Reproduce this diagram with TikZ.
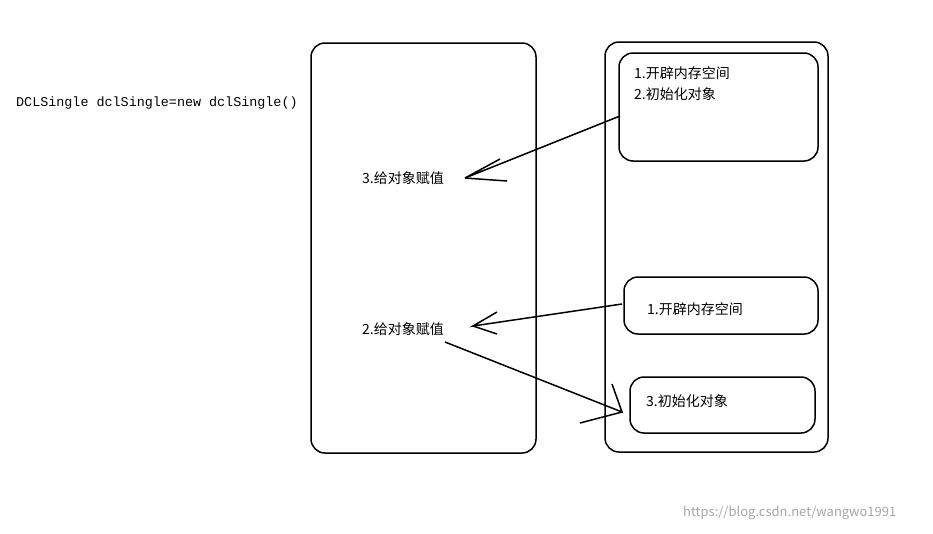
\documentclass[tikz,border=0pt]{standalone}
\usepackage{fontspec}
\setmainfont{Noto Sans CJK SC}
\newfontfamily\codefont{Liberation Mono}
\begin{document}
\begin{tikzpicture}[x=1pt,y=-1pt,
	box/.style={draw,line width=1.5pt,rounded corners=14pt},
	lbl/.style={anchor=west,inner sep=0pt,font=\fontsize{14}{17}\selectfont},
	stroke/.style={line width=1.5pt}]
	\useasboundingbox (0,0) rectangle (933,533);
	% the two columns
	\draw[box] (311,43) rectangle (536,453);
	\draw[box] (605,42) rectangle (828,452);
	% right-hand boxes
	\draw[box] (619,53) rectangle (818,161);
	\draw[box] (624,277) rectangle (818,334);
	\draw[box] (630,377) rectangle (815,433);
	
	\node[lbl,font=\codefont\fontsize{13.4}{16}\selectfont] (code) at (16,103) {DCLSingle dclSingle=new dclSingle()};
	\node[lbl] (alloca) at (634,73) {1.开辟内存空间};
	\node[lbl] (inita) at (634,94) {2.初始化对象};
	\node[lbl] (assigna) at (362,178) {3.给对象赋值};
	\node[lbl] (allocb) at (647,309) {1.开辟内存空间};
	\node[lbl] (assignb) at (362,329) {2.给对象赋值};
	\node[lbl] (initb) at (646,401) {3.初始化对象};
	
	% hand drawn arrows
	\coordinate (tipa) at (465,178);
	\coordinate (tipb) at (473,326);
	\coordinate (tipc) at (622,412);
	\draw[stroke] (620,116) -- (tipa) -- (500,159);
	\draw[stroke] (tipa) -- (507,181);
	\draw[stroke] (622,304) -- (tipb) -- (497,312);
	\draw[stroke] (tipb) -- (497,334);
	\draw[stroke] (445,342) -- (tipc) -- (612,384);
	\draw[stroke] (tipc) -- (580,423);
	
	\node[lbl,text=black!35,font=\fontsize{13}{15}\selectfont] (mark) at (683,513) {https://blog.csdn.net/wangwo1991};
\end{tikzpicture}
\end{document}
